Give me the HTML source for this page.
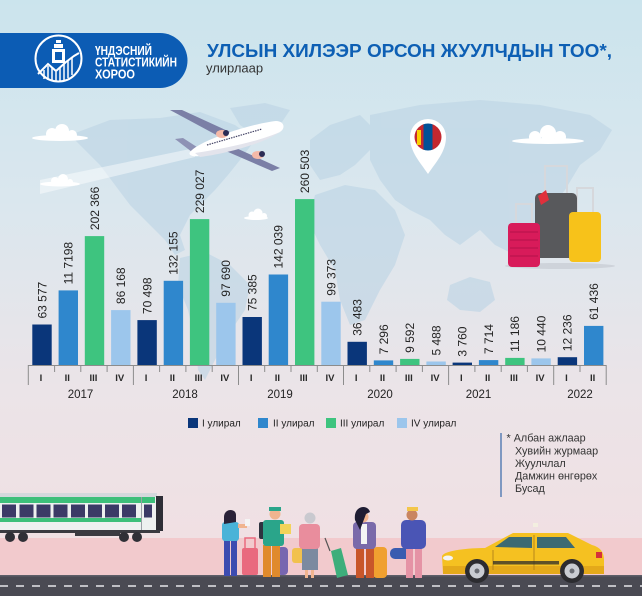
<!DOCTYPE html>
<html>
<head>
<meta charset="utf-8">
<style>
  html,body{margin:0;padding:0;width:642px;height:596px;overflow:hidden;}
  svg{display:block;}
  text{font-family:"Liberation Sans","Noto Sans CJK SC",sans-serif;}
</style>
</head>
<body>
<svg width="642" height="596" viewBox="0 0 642 596" xmlns="http://www.w3.org/2000/svg">
  <defs>
    <linearGradient id="bg" x1="0" y1="0" x2="0" y2="1">
      <stop offset="0" stop-color="#cbe4ed"/>
      <stop offset="0.35" stop-color="#dbe7ee"/>
      <stop offset="0.65" stop-color="#ebe4e8"/>
      <stop offset="0.9" stop-color="#f0e0e3"/>
    </linearGradient>
    <clipPath id="flagclip"><circle cx="428" cy="137" r="13.5"/></clipPath>
  </defs>

  <!-- background -->
  <rect x="0" y="0" width="642" height="596" fill="url(#bg)"/>

  <!-- world map -->
  <g fill="#bcd4e5" opacity="0.6">
    <polygon points="70,135 110,120 160,118 200,112 235,125 255,140 240,160 228,175 215,190 200,205 190,215 180,235 185,250 175,255 165,240 150,225 130,205 115,185 100,165 85,150"/>
    <polygon points="230,108 265,103 290,110 280,125 255,135 240,125"/>
    <polygon points="180,258 205,252 230,265 250,285 245,310 228,335 215,360 205,380 198,370 195,340 188,310 178,285"/>
    <polygon points="310,140 330,125 360,115 375,130 370,150 355,165 340,175 320,180 310,165"/>
    <polygon points="315,195 345,185 375,190 395,210 405,235 395,265 380,290 365,320 350,325 340,300 335,270 320,245 308,220"/>
    <polygon points="370,115 420,105 480,100 540,105 590,115 612,130 600,150 580,165 565,190 545,215 530,240 515,255 495,245 480,230 460,245 445,235 430,220 410,210 395,200 380,180 370,160"/>
    <polygon points="450,285 470,277 490,282 495,300 480,312 460,310 447,300"/>
  </g>

  <!-- clouds -->
  <g fill="#ffffff">
    <ellipse cx="60" cy="138" rx="28" ry="3"/>
    <circle cx="52" cy="134" r="6"/><circle cx="62" cy="131" r="7"/><circle cx="72" cy="135" r="5"/>
    <ellipse cx="60" cy="184" rx="20" ry="2.5"/>
    <circle cx="55" cy="181" r="4"/><circle cx="63" cy="179" r="5"/><circle cx="70" cy="182" r="3"/>
    <ellipse cx="256" cy="218" rx="12" ry="2"/>
    <circle cx="252" cy="215" r="3.5"/><circle cx="258" cy="213" r="4.5"/><circle cx="264" cy="216" r="3"/>
    <ellipse cx="548" cy="141" rx="36" ry="3"/>
    <circle cx="535" cy="137" r="6"/><circle cx="548" cy="133" r="8"/><circle cx="560" cy="137" r="6"/>
  </g>

  <!-- plane trail -->
  <polygon points="195,148 40,180 40,194 195,157" fill="#ffffff" opacity="0.45"/>
  <!-- plane -->
  <g>
    <polygon points="170,110 182,110 230,132 222,138" fill="#7b7fa6"/>
    <polygon points="212,145 225,143 280,168 272,171" fill="#7b7fa6"/>
    <polygon points="175,139 183,138 200,149 192,152" fill="#8e92b5"/>
    <path d="M190,152 C200,140 250,124 276,121 C284,121 286,128 280,132 C262,142 225,152 200,156 C192,157 188,155 190,152 Z" fill="#ffffff"/>
    <path d="M195,153 C230,148 262,140 280,132 L282,130 C270,142 225,154 200,157 Z" fill="#e3e4ec"/>
    <ellipse cx="222" cy="134" rx="6" ry="4" fill="#f4b9a8"/>
    <circle cx="226" cy="133" r="3" fill="#2b2c55"/>
    <ellipse cx="258" cy="155" rx="6" ry="4" fill="#f4b9a8"/>
    <circle cx="262" cy="154" r="3" fill="#2b2c55"/>
    <line x1="207" y1="145" x2="262" y2="129" stroke="#444466" stroke-width="1.2" stroke-dasharray="1.5,1"/>
  </g>

  <!-- pin -->
  <path d="M428,174 C420,162 410,152 410,137 A18,18 0 0 1 446,137 C446,152 436,162 428,174 Z" fill="#ffffff"/>
  <g clip-path="url(#flagclip)">
    <rect x="414" y="123" width="10" height="28" fill="#c4272f"/>
    <rect x="423.5" y="123" width="9" height="28" fill="#015197"/>
    <rect x="432.5" y="123" width="10" height="28" fill="#c4272f"/>
    <rect x="417" y="130" width="4" height="15" fill="#f9cf02"/>
  </g>

  <!-- luggage -->
  <ellipse cx="560" cy="266" rx="55" ry="3" fill="#c9ced6" opacity="0.8"/>
  <g fill="none" stroke="#d6d8dc" stroke-width="2">
    <path d="M545,193 V166 H567 V193"/>
    <path d="M516,223 V204 H532 V223"/>
    <path d="M577,212 V188 H593 V212"/>
  </g>
  <rect x="535" y="193" width="42" height="65" rx="5" fill="#58595c"/>
  <rect x="508" y="223" width="32" height="44" rx="4" fill="#d81b5a"/>
  <g stroke="#b5124a" stroke-width="1"><line x1="510" y1="232" x2="538" y2="232"/><line x1="510" y1="240" x2="538" y2="240"/><line x1="510" y1="248" x2="538" y2="248"/><line x1="510" y1="256" x2="538" y2="256"/></g>
  <rect x="569" y="212" width="32" height="50" rx="4" fill="#f7c21a"/>
  <polygon points="538,196 546,190 549,200 541,205" fill="#e0303c"/>

  <!-- header banner -->
  <path d="M0,33 H160 A27.5,27.5 0 0 1 160,88 H0 Z" fill="#0c5cb4"/>
  <circle cx="58.5" cy="58.5" r="23" fill="none" stroke="#ffffff" stroke-width="2"/>
  <g fill="#ffffff">
    <rect x="56" y="40" width="5" height="3"/>
    <rect x="54" y="44" width="9" height="4"/>
    <rect x="52" y="49" width="13" height="14"/>
    <rect x="55" y="52" width="7" height="8" fill="#0c5cb4"/>
  </g>
  <polyline points="38,74 48,64 56,71 66,62 74,56 79,53" fill="none" stroke="#ffffff" stroke-width="2"/>
  <g stroke="#ffffff" stroke-width="1.5">
    <line x1="44" y1="70" x2="44" y2="79"/><line x1="48" y1="66" x2="48" y2="80"/><line x1="52" y1="68" x2="52" y2="81"/>
    <line x1="56" y1="72" x2="56" y2="81"/><line x1="60" y1="68" x2="60" y2="81"/><line x1="64" y1="64" x2="64" y2="80"/>
    <line x1="68" y1="61" x2="68" y2="78"/><line x1="72" y1="58" x2="72" y2="75"/>
  </g>
  <g fill="#ffffff" font-weight="bold" font-size="12.5">
    <text x="95" y="55" textLength="57" lengthAdjust="spacingAndGlyphs">ҮНДЭСНИЙ</text>
    <text x="95" y="66.7" textLength="82" lengthAdjust="spacingAndGlyphs">СТАТИСТИКИЙН</text>
    <text x="95" y="78.3" textLength="40" lengthAdjust="spacingAndGlyphs">ХОРОО</text>
  </g>

  <!-- title -->
  <text x="207" y="57" font-size="18" font-weight="bold" fill="#0d5fb4" textLength="405" lengthAdjust="spacingAndGlyphs">УЛСЫН ХИЛЭЭР ОРСОН ЖУУЛЧДЫН ТОО*,</text>
  <text x="206" y="72.5" font-size="13" fill="#333333">улирлаар</text>

  <!-- bars -->
  <g>
    <rect x="32.3" y="324.5" width="19.4" height="40.5" fill="#0a367a"/>
    <rect x="58.6" y="290.4" width="19.4" height="74.6" fill="#2f87cd"/>
    <rect x="84.8" y="236.1" width="19.4" height="128.9" fill="#3ec47f"/>
    <rect x="111.1" y="310.1" width="19.4" height="54.9" fill="#9cc6ec"/>
    <rect x="137.4" y="320.1" width="19.4" height="44.9" fill="#0a367a"/>
    <rect x="163.7" y="280.8" width="19.4" height="84.2" fill="#2f87cd"/>
    <rect x="189.9" y="219.1" width="19.4" height="145.9" fill="#3ec47f"/>
    <rect x="216.2" y="302.8" width="19.4" height="62.2" fill="#9cc6ec"/>
    <rect x="242.5" y="317.0" width="19.4" height="48.0" fill="#0a367a"/>
    <rect x="268.7" y="274.5" width="19.4" height="90.5" fill="#2f87cd"/>
    <rect x="295.0" y="199.1" width="19.4" height="165.9" fill="#3ec47f"/>
    <rect x="321.3" y="301.7" width="19.4" height="63.3" fill="#9cc6ec"/>
    <rect x="347.5" y="341.8" width="19.4" height="23.2" fill="#0a367a"/>
    <rect x="373.8" y="360.4" width="19.4" height="4.6" fill="#2f87cd"/>
    <rect x="400.1" y="358.9" width="19.4" height="6.1" fill="#3ec47f"/>
    <rect x="426.4" y="361.5" width="19.4" height="3.5" fill="#9cc6ec"/>
    <rect x="452.6" y="362.6" width="19.4" height="2.4" fill="#0a367a"/>
    <rect x="478.9" y="360.1" width="19.4" height="4.9" fill="#2f87cd"/>
    <rect x="505.2" y="357.9" width="19.4" height="7.1" fill="#3ec47f"/>
    <rect x="531.4" y="358.4" width="19.4" height="6.6" fill="#9cc6ec"/>
    <rect x="557.7" y="357.2" width="19.4" height="7.8" fill="#0a367a"/>
    <rect x="584.0" y="325.9" width="19.4" height="39.1" fill="#2f87cd"/>
  </g>

  <!-- value labels -->
  <g font-size="12" fill="#222222">
    <text transform="translate(46.3,318.5) rotate(-90)">63 577</text>
    <text transform="translate(72.6,284.4) rotate(-90)">11 7198</text>
    <text transform="translate(98.8,230.1) rotate(-90)">202 366</text>
    <text transform="translate(125.1,304.1) rotate(-90)">86 168</text>
    <text transform="translate(151.4,314.1) rotate(-90)">70 498</text>
    <text transform="translate(177.7,274.8) rotate(-90)">132 155</text>
    <text transform="translate(203.9,213.1) rotate(-90)">229 027</text>
    <text transform="translate(230.2,296.8) rotate(-90)">97 690</text>
    <text transform="translate(256.5,311.0) rotate(-90)">75 385</text>
    <text transform="translate(282.7,268.5) rotate(-90)">142 039</text>
    <text transform="translate(309.0,193.1) rotate(-90)">260 503</text>
    <text transform="translate(335.3,295.7) rotate(-90)">99 373</text>
    <text transform="translate(361.5,335.8) rotate(-90)">36 483</text>
    <text transform="translate(387.8,354.4) rotate(-90)">7 296</text>
    <text transform="translate(414.1,352.9) rotate(-90)">9 592</text>
    <text transform="translate(440.4,355.5) rotate(-90)">5 488</text>
    <text transform="translate(466.6,356.6) rotate(-90)">3 760</text>
    <text transform="translate(492.9,354.1) rotate(-90)">7 714</text>
    <text transform="translate(519.2,351.9) rotate(-90)">11 186</text>
    <text transform="translate(545.4,352.4) rotate(-90)">10 440</text>
    <text transform="translate(571.7,351.2) rotate(-90)">12 236</text>
    <text transform="translate(598.0,319.9) rotate(-90)">61 436</text>
  </g>

  <!-- axis -->
  <g stroke="#8c8c8c" stroke-width="1">
    <line x1="28.3" y1="365.5" x2="606.2" y2="365.5"/>
    <line x1="28.3" y1="365" x2="28.3" y2="385"/>
    <line x1="54.6" y1="365" x2="54.6" y2="372"/>
    <line x1="80.8" y1="365" x2="80.8" y2="372"/>
    <line x1="107.1" y1="365" x2="107.1" y2="372"/>
    <line x1="133.4" y1="365" x2="133.4" y2="385"/>
    <line x1="159.6" y1="365" x2="159.6" y2="372"/>
    <line x1="185.9" y1="365" x2="185.9" y2="372"/>
    <line x1="212.2" y1="365" x2="212.2" y2="372"/>
    <line x1="238.5" y1="365" x2="238.5" y2="385"/>
    <line x1="264.7" y1="365" x2="264.7" y2="372"/>
    <line x1="291.0" y1="365" x2="291.0" y2="372"/>
    <line x1="317.3" y1="365" x2="317.3" y2="372"/>
    <line x1="343.5" y1="365" x2="343.5" y2="385"/>
    <line x1="369.8" y1="365" x2="369.8" y2="372"/>
    <line x1="396.1" y1="365" x2="396.1" y2="372"/>
    <line x1="422.4" y1="365" x2="422.4" y2="372"/>
    <line x1="448.6" y1="365" x2="448.6" y2="385"/>
    <line x1="474.9" y1="365" x2="474.9" y2="372"/>
    <line x1="501.2" y1="365" x2="501.2" y2="372"/>
    <line x1="527.4" y1="365" x2="527.4" y2="372"/>
    <line x1="553.7" y1="365" x2="553.7" y2="385"/>
    <line x1="580.0" y1="365" x2="580.0" y2="372"/>
    <line x1="606.2" y1="365" x2="606.2" y2="385"/>
  </g>

  <!-- quarter labels -->
  <g font-size="9.5" font-weight="bold" fill="#2a2a2a" text-anchor="middle">
    <text x="41" y="381">I</text><text x="67.3" y="381">II</text><text x="93.5" y="381">III</text><text x="119.8" y="381">IV</text>
    <text x="146.1" y="381">I</text><text x="172.4" y="381">II</text><text x="198.6" y="381">III</text><text x="224.9" y="381">IV</text>
    <text x="251.2" y="381">I</text><text x="277.4" y="381">II</text><text x="303.7" y="381">III</text><text x="330" y="381">IV</text>
    <text x="356.2" y="381">I</text><text x="382.5" y="381">II</text><text x="408.8" y="381">III</text><text x="435.1" y="381">IV</text>
    <text x="461.3" y="381">I</text><text x="487.6" y="381">II</text><text x="513.9" y="381">III</text><text x="540.1" y="381">IV</text>
    <text x="566.4" y="381">I</text><text x="592.7" y="381">II</text>
  </g>
  <!-- year labels -->
  <g font-size="11.5" fill="#222222" text-anchor="middle">
    <text x="80.5" y="398">2017</text>
    <text x="185" y="398">2018</text>
    <text x="280" y="398">2019</text>
    <text x="380" y="398">2020</text>
    <text x="478.5" y="398">2021</text>
    <text x="580" y="398">2022</text>
  </g>

  <!-- legend -->
  <rect x="188" y="418" width="10" height="10" fill="#0a367a"/>
  <rect x="258" y="418" width="10" height="10" fill="#2f87cd"/>
  <rect x="326" y="418" width="10" height="10" fill="#3ec47f"/>
  <rect x="397" y="418" width="10" height="10" fill="#9cc6ec"/>
  <g font-size="10" fill="#222222">
    <text x="202" y="426.5">I улирал</text>
    <text x="273" y="426.5">II улирал</text>
    <text x="340" y="426.5">III улирал</text>
    <text x="411" y="426.5">IV улирал</text>
  </g>

  <!-- footnote -->
  <line x1="501" y1="433" x2="501" y2="497" stroke="#5a7fb5" stroke-width="1.5"/>
  <g font-size="10.8" fill="#333333">
    <text x="506.5" y="441.7">* Албан ажлаар</text>
    <text x="515" y="454.3">Хувийн журмаар</text>
    <text x="515" y="466.8">Жуулчлал</text>
    <text x="515" y="479.6">Дамжин өнгөрөх</text>
    <text x="515" y="492">Бусад</text>
  </g>

  <!-- ground -->
  <rect x="0" y="538" width="642" height="38" fill="#f2cacd"/>
  <rect x="0" y="575" width="642" height="21" fill="#4a4a53"/>
  <rect x="0" y="575" width="642" height="1.5" fill="#5e5e68"/>
  <line x1="0" y1="586" x2="642" y2="586" stroke="#e6e6ea" stroke-width="1.6" stroke-dasharray="8,8"/>

  <!-- train -->
  <g>
    <rect x="0" y="493" width="157" height="38" fill="#eef0f0"/>
    <rect x="0" y="493" width="157" height="4" fill="#d4d8dc"/>
    <rect x="0" y="497" width="155" height="6" fill="#3dbf7a"/>
    <rect x="0" y="518" width="141" height="4" fill="#3dbf7a"/>
    <g fill="#3b3a66">
      <rect x="2" y="504.5" width="14" height="13"/>
      <rect x="19.5" y="504.5" width="14" height="13"/>
      <rect x="36.5" y="504.5" width="14" height="13"/>
      <rect x="53.5" y="504.5" width="14" height="13"/>
      <rect x="71" y="504.5" width="14" height="13"/>
      <rect x="88" y="504.5" width="14" height="13"/>
      <rect x="105" y="504.5" width="14" height="13"/>
      <rect x="122" y="504.5" width="14" height="13"/>
      <rect x="144" y="504.5" width="8" height="13"/>
    </g>
    <rect x="141" y="497" width="1" height="33" fill="#9aa0a6"/>
    <rect x="156" y="496" width="7" height="35" fill="#2e2e36"/>
    <rect x="0" y="530" width="160" height="3" fill="#3a3a40"/>
    <rect x="75" y="531" width="45" height="5" fill="#3a3a40"/>
    <g fill="#2f2f36">
      <circle cx="10" cy="537" r="5"/><circle cx="23" cy="537" r="5"/>
      <circle cx="124" cy="537" r="5"/><circle cx="137" cy="537" r="5"/>
    </g>
  </g>

  <!-- people -->
  <g>
    <rect x="242" y="548" width="16" height="27" rx="2" fill="#e96a7e"/>
    <path d="M245,548 V538 H255 V548" fill="none" stroke="#e96a7e" stroke-width="1.5"/>
    <rect x="224" y="540" width="6" height="36" fill="#3d4bb0"/>
    <rect x="231" y="540" width="6" height="36" fill="#3d4bb0"/>
    <rect x="222" y="522" width="17" height="19" rx="3" fill="#4ab3d8"/>
    <circle cx="230" cy="517" r="5" fill="#f0b48f"/>
    <path d="M224,517 C224,508 236,508 236,515 L236,522 L224,524 Z" fill="#2a2238"/>
    <rect x="238" y="524" width="9" height="4" fill="#f0b48f"/>
    <rect x="245" y="519" width="5" height="7" fill="#f4f4f4"/>
    <rect x="277" y="547" width="11" height="28" rx="4" fill="#7766b0"/>
    <rect x="263" y="545" width="8" height="32" fill="#e08a2c"/>
    <rect x="272" y="545" width="8" height="32" fill="#e08a2c"/>
    <rect x="259" y="522" width="8" height="17" rx="2" fill="#2e3440"/>
    <rect x="263" y="520" width="21" height="26" rx="3" fill="#2aa58a"/>
    <circle cx="275" cy="514" r="5.5" fill="#f0b48f"/>
    <rect x="269" y="507" width="12" height="4" fill="#2aa58a"/>
    <rect x="280" y="524" width="11" height="10" fill="#f3d35a"/>
    <rect x="292" y="548" width="16" height="15" rx="3" fill="#f2c14e"/>
    <rect x="302" y="548" width="16" height="22" fill="#7c8aa0"/>
    <rect x="305" y="570" width="3" height="8" fill="#f0b48f"/>
    <rect x="311" y="570" width="3" height="8" fill="#f0b48f"/>
    <rect x="299" y="524" width="21" height="25" rx="4" fill="#e98d9d"/>
    <circle cx="310" cy="518" r="5.5" fill="#c9c9cf"/>
    <polygon points="331,551 341,548 348,575 337,578" fill="#3dae7b"/>
    <line x1="330" y1="551" x2="325" y2="538" stroke="#555" stroke-width="1.2"/>
    <rect x="373" y="547" width="14" height="31" rx="4" fill="#f0a030"/>
    <rect x="356" y="548" width="8" height="30" fill="#c8562a"/>
    <rect x="366" y="548" width="8" height="30" fill="#c8562a"/>
    <rect x="353" y="522" width="23" height="27" rx="4" fill="#7a6aaa"/>
    <rect x="361" y="524" width="6" height="20" fill="#f4f4f4"/>
    <circle cx="363" cy="517" r="5.5" fill="#f0b48f"/>
    <path d="M355,520 C353,505 368,504 370,512 L366,514 L360,530 Z" fill="#1f1d33"/>
    <rect x="390" y="548" width="22" height="11" rx="5" fill="#3a5cb0"/>
    <rect x="406" y="548" width="7" height="30" fill="#e593a5"/>
    <rect x="415" y="548" width="7" height="30" fill="#e593a5"/>
    <rect x="401" y="520" width="25" height="29" rx="5" fill="#4a55b5"/>
    <circle cx="412" cy="515" r="5.5" fill="#c98560"/>
    <rect x="407" y="507" width="11" height="4" fill="#f3c64a"/>
  </g>

  <!-- taxi -->
  <g>
    <rect x="533" y="523" width="5" height="4" fill="#f3efe0"/>
    <path d="M442,556 C445,550 470,548 485,548 L513,533 L568,533 L592,545 C600,547 604,552 604,560 L604,572 L443,574 Z" fill="#f5c121"/>
    <path d="M443,566 L604,566 L604,574 L443,574 Z" fill="#e4a91a"/>
    <polygon points="495,547 509,537 532,537 532,548" fill="#3c6a72"/>
    <polygon points="537,537 566,537 575,548 537,548" fill="#3c6a72"/>
    <line x1="534" y1="535" x2="534" y2="570" stroke="#b7861a" stroke-width="1"/>
    <line x1="493" y1="550" x2="493" y2="570" stroke="#b7861a" stroke-width="1"/>
    <rect x="493" y="561" width="66" height="3.5" fill="#2b2b2b" opacity="0.75"/>
    <ellipse cx="448" cy="558" rx="5" ry="2.5" fill="#f4f4f4"/>
    <rect x="596" y="552" width="6" height="6" fill="#d5303a"/>
    <circle cx="477" cy="571" r="12" fill="#2c2c30"/>
    <circle cx="477" cy="571" r="7.5" fill="#c9ccd2"/>
    <circle cx="477" cy="571" r="2.5" fill="#6a6d74"/>
    <circle cx="572" cy="571" r="12" fill="#2c2c30"/>
    <circle cx="572" cy="571" r="7.5" fill="#c9ccd2"/>
    <circle cx="572" cy="571" r="2.5" fill="#6a6d74"/>
  </g>
</svg>
</body>
</html>
